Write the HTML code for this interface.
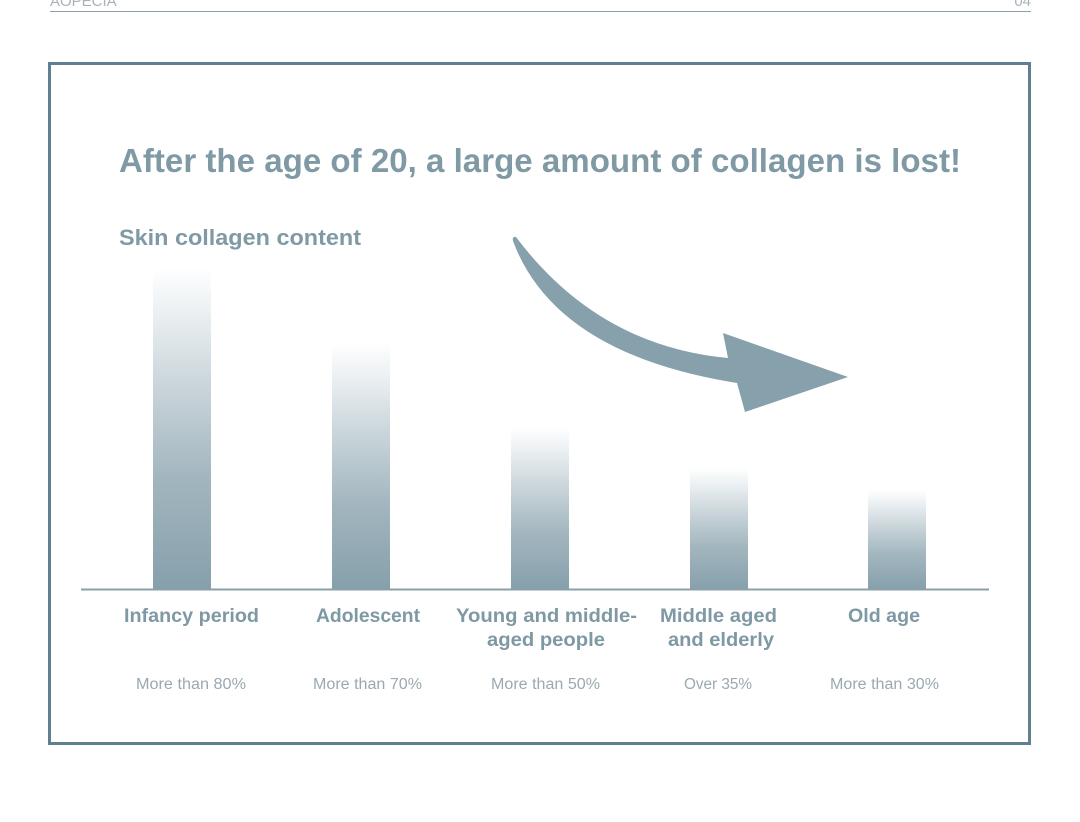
<!DOCTYPE html>
<html>
<head>
<meta charset="utf-8">
<style>
  html, body { margin:0; padding:0; background:#ffffff; }
  svg { display:block; }
</style>
</head>
<body>
<svg width="1080" height="822" viewBox="0 0 1080 822" xmlns="http://www.w3.org/2000/svg">
  <defs>
    <linearGradient id="bar" x1="0" y1="1" x2="0" y2="0">
      <stop offset="0" stop-color="#86a0ab"/>
      <stop offset="0.35" stop-color="#a3b6bf"/>
      <stop offset="0.65" stop-color="#ccd7dc"/>
      <stop offset="0.88" stop-color="#eef2f4"/>
      <stop offset="1" stop-color="#ffffff"/>
    </linearGradient>
  </defs>
  <rect width="1080" height="822" fill="#ffffff"/>

  <!-- header -->
  <text x="50" y="6" font-family="Liberation Sans, sans-serif" font-size="15" fill="#a9b2b6">AOPECIA</text>
  <text x="1031" y="6" font-family="Liberation Sans, sans-serif" font-size="15" fill="#a9b2b6" text-anchor="end">04</text>
  <line x1="50" y1="11.5" x2="1031" y2="11.5" stroke="#8aa2ac" stroke-width="1"/>

  <!-- frame -->
  <rect x="49.5" y="63.5" width="980" height="680" fill="none" stroke="#5f8090" stroke-width="3"/>

  <!-- title -->
  <text x="119" y="172" font-family="Liberation Sans, sans-serif" font-weight="bold" font-size="33" fill="#7f9aa5" textLength="842" lengthAdjust="spacingAndGlyphs">After the age of 20, a large amount of collagen is lost!</text>
  <text x="119" y="245" font-family="Liberation Sans, sans-serif" font-weight="bold" font-size="22" fill="#7f9aa5" textLength="242" lengthAdjust="spacingAndGlyphs">Skin collagen content</text>

  <!-- bars -->
  <rect x="153" y="268" width="58" height="321" fill="url(#bar)"/>
  <rect x="332" y="343" width="58" height="246" fill="url(#bar)"/>
  <rect x="511" y="428" width="58" height="161" fill="url(#bar)"/>
  <rect x="690" y="468" width="58" height="121" fill="url(#bar)"/>
  <rect x="868" y="490" width="58" height="99" fill="url(#bar)"/>

  <!-- baseline -->
  <line x1="81" y1="589.5" x2="989" y2="589.5" stroke="#8aa0a8" stroke-width="2"/>

  <!-- arrow -->
  <path d="M516 237 Q598 346 728 358 L723 333 L848 377 L745 412 L737 383 Q555 354 513 241 Q512 236 516 237 Z" fill="#87a1ac"/>

  <!-- category labels -->
  <g font-family="Liberation Sans, sans-serif" font-weight="bold" font-size="19" fill="#7e99a4" text-anchor="middle">
    <text x="191.5" y="622" textLength="135" lengthAdjust="spacingAndGlyphs">Infancy period</text>
    <text x="368" y="622" textLength="104" lengthAdjust="spacingAndGlyphs">Adolescent</text>
    <text x="546.5" y="622" textLength="181" lengthAdjust="spacingAndGlyphs">Young and middle-</text>
    <text x="546" y="646" textLength="118" lengthAdjust="spacingAndGlyphs">aged people</text>
    <text x="718.5" y="622" textLength="117" lengthAdjust="spacingAndGlyphs">Middle aged</text>
    <text x="721" y="646" textLength="106" lengthAdjust="spacingAndGlyphs">and elderly</text>
    <text x="884" y="622" textLength="72" lengthAdjust="spacingAndGlyphs">Old age</text>
  </g>

  <!-- percent labels -->
  <g font-family="Liberation Sans, sans-serif" font-size="15.5" fill="#9aa9b0" text-anchor="middle">
    <text x="191" y="689" textLength="110" lengthAdjust="spacingAndGlyphs">More than 80%</text>
    <text x="367.5" y="689" textLength="109" lengthAdjust="spacingAndGlyphs">More than 70%</text>
    <text x="545.5" y="689" textLength="109" lengthAdjust="spacingAndGlyphs">More than 50%</text>
    <text x="718" y="689" textLength="68" lengthAdjust="spacingAndGlyphs">Over 35%</text>
    <text x="884.5" y="689" textLength="109" lengthAdjust="spacingAndGlyphs">More than 30%</text>
  </g>
</svg>
</body>
</html>
